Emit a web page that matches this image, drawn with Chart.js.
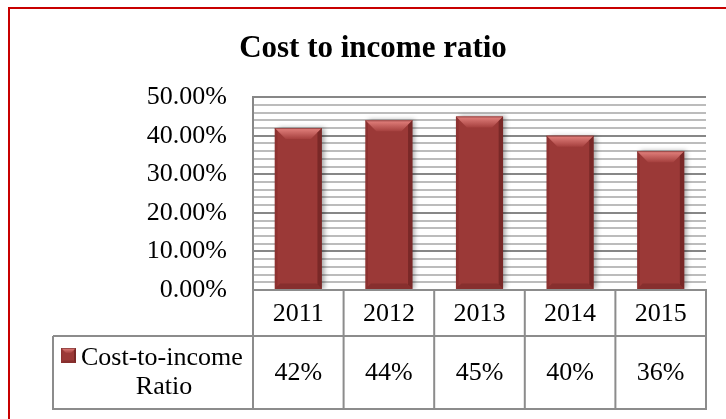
<!DOCTYPE html>
<html>
<head>
<meta charset="utf-8">
<title>Cost to income ratio</title>
<script src="https://cdn.jsdelivr.net/npm/chart.js@4/dist/chart.umd.min.js"></script>
<style>
  html, body { margin: 0; padding: 0; background: #fff; }
  canvas { display: block; }
</style>
</head>
<body>
<canvas id="ratioChart" width="726" height="419"></canvas>
<script>
// chart data
const years = ["2011", "2012", "2013", "2014", "2015"];
const ratioValues = [42, 44, 45, 40, 36];
const valueLabels = ["42%", "44%", "45%", "40%", "36%"];
const seriesLines = ["Cost-to-income", "Ratio"];
const yLabelTicks = [0, 10, 20, 30, 40, 50];

const serif = "'Liberation Serif', 'Times New Roman', serif";
const gridDark = "#878787";
const gridLight = "#bcbcbc";
const tableLine = "#8c8c8c";

// draws the 3D look of a bar (or the legend swatch)
function bevel(ctx, left, right, top, bottom, t) {
    // top face
    let g = ctx.createLinearGradient(0, top, 0, top + t);
    g.addColorStop(0, "#e4837f");
    g.addColorStop(1, "#a5403e");
    ctx.fillStyle = g;
    ctx.beginPath();
    ctx.moveTo(left, top);
    ctx.lineTo(right, top);
    ctx.lineTo(right - t, top + t);
    ctx.lineTo(left + t, top + t);
    ctx.closePath();
    ctx.fill();

    // right side, darker
    let s = Math.max(2, t * 0.4);
    ctx.fillStyle = "rgba(80, 20, 20, 0.45)";
    ctx.beginPath();
    ctx.moveTo(right, top);
    ctx.lineTo(right, bottom);
    ctx.lineTo(right - s, bottom - s);
    ctx.lineTo(right - s, top + s);
    ctx.closePath();
    ctx.fill();

    // left side, a little darker
    ctx.fillStyle = "rgba(90, 25, 25, 0.2)";
    ctx.beginPath();
    ctx.moveTo(left, top);
    ctx.lineTo(left + s * 0.6, top + s * 0.6);
    ctx.lineTo(left + s * 0.6, bottom - s * 0.6);
    ctx.lineTo(left, bottom);
    ctx.closePath();
    ctx.fill();

    // bottom band
    let b = Math.max(2, t * 0.5);
    ctx.fillStyle = "rgba(90, 25, 25, 0.3)";
    ctx.beginPath();
    ctx.moveTo(left, bottom);
    ctx.lineTo(right, bottom);
    ctx.lineTo(right - b, bottom - b);
    ctx.lineTo(left + b, bottom - b);
    ctx.closePath();
    ctx.fill();

    // thin outline on top
    ctx.strokeStyle = "rgba(110, 40, 40, 0.6)";
    ctx.lineWidth = 1;
    ctx.beginPath();
    ctx.moveTo(left, top + 0.5);
    ctx.lineTo(right, top + 0.5);
    ctx.stroke();
}

const barLook = {
    id: "barLook",
    beforeDatasetDraw(chart) {
        const ctx = chart.ctx;
        ctx.save();
        ctx.shadowColor = "rgba(0, 0, 0, 0.35)";
        ctx.shadowBlur = 5;
        ctx.shadowOffsetX = 3;
        ctx.shadowOffsetY = 0;
    },
    afterDatasetDraw(chart, args) {
        const ctx = chart.ctx;
        ctx.restore();
        ctx.save();
        args.meta.data.forEach(bar => {
            const p = bar.getProps(["x", "y", "base", "width"], true);
            bevel(ctx, p.x - p.width / 2, p.x + p.width / 2, p.y, p.base, 11);
        });
        ctx.restore();
    }
};

// red frame, data table under the plot
const frameAndTable = {
    id: "frameAndTable",
    beforeDraw(chart) {
        const ctx = chart.ctx;
        ctx.save();
        ctx.fillStyle = "#fff";
        ctx.fillRect(0, 0, chart.width, chart.height);
        ctx.strokeStyle = "#c80000";
        ctx.lineWidth = 2;
        ctx.beginPath();
        ctx.moveTo(9, chart.height);
        ctx.lineTo(9, 8);
        ctx.lineTo(chart.width, 8);
        ctx.stroke();
        ctx.restore();
    },
    afterDraw(chart) {
        const ctx = chart.ctx;
        const area = chart.chartArea;
        const xs = chart.scales.x;
        const row1 = area.bottom + 46;
        const row2 = row1 + 73;
        const legendLeft = 53;

        const centers = years.map((y, i) => xs.getPixelForValue(i));
        const step = centers.length > 1 ? centers[1] - centers[0] : area.right - area.left;
        const edges = centers.map(c => c - step / 2);
        edges.push(centers[centers.length - 1] + step / 2);

        ctx.save();
        ctx.strokeStyle = tableLine;
        ctx.lineWidth = 2;
        ctx.beginPath();
        edges.forEach(x => {
            ctx.moveTo(x, area.bottom);
            ctx.lineTo(x, row2);
        });
        ctx.moveTo(legendLeft, row1);
        ctx.lineTo(legendLeft, row2);
        ctx.moveTo(legendLeft, row1);
        ctx.lineTo(edges[edges.length - 1] + 1, row1);
        ctx.moveTo(legendLeft - 1, row2);
        ctx.lineTo(edges[edges.length - 1] + 1, row2);
        ctx.moveTo(edges[0], area.bottom);
        ctx.lineTo(edges[edges.length - 1] + 1, area.bottom);
        ctx.stroke();

        ctx.fillStyle = "#000";
        ctx.font = "26px " + serif;
        ctx.textAlign = "center";
        ctx.textBaseline = "middle";
        centers.forEach((c, i) => {
            ctx.fillText(years[i], c, (area.bottom + row1) / 2 + 1);
            ctx.fillText(valueLabels[i], c, (row1 + row2) / 2 + 1);
        });

        // legend cell
        const textLeft = 81;
        const textRight = edges[0] - 6;
        ctx.textAlign = "left";
        ctx.fillText(seriesLines[0], textLeft, row1 + 22);
        ctx.textAlign = "center";
        ctx.fillText(seriesLines[1], (textLeft + textRight) / 2, row1 + 51);

        ctx.fillStyle = "#9b3937";
        ctx.fillRect(61, row1 + 12, 15, 15);
        bevel(ctx, 61, 76, row1 + 12, row1 + 27, 5);
        ctx.restore();
    }
};

new Chart(document.getElementById("ratioChart"), {
    type: "bar",
    data: {
        labels: years,
        datasets: [{
            label: seriesLines.join(" "),
            data: ratioValues,
            backgroundColor: "#9b3937",
            borderWidth: 0,
            categoryPercentage: 1,
            barPercentage: 0.52
        }]
    },
    options: {
        responsive: false,
        animation: false,
        devicePixelRatio: 1,
        layout: {
            padding: { left: 40, right: 20, top: 0, bottom: 129 }
        },
        scales: {
            x: {
                display: false
            },
            y: {
                min: 0,
                max: 50,
                afterFit: scale => { scale.width = 213; },
                ticks: {
                    stepSize: 2,
                    autoSkip: false,
                    padding: 26,
                    color: "#000",
                    font: { family: serif, size: 26 },
                    callback: v => yLabelTicks.includes(v) ? v.toFixed(2) + "%" : ""
                },
                grid: {
                    drawTicks: false,
                    lineWidth: 2,
                    color: c => (c.tick && c.tick.value % 10 === 0) ? gridDark : gridLight
                },
                border: { display: true, color: gridDark, width: 2 }
            }
        },
        plugins: {
            legend: { display: false },
            tooltip: { enabled: false },
            title: {
                display: true,
                text: "Cost to income ratio",
                color: "#000",
                font: { family: serif, size: 31, weight: "bold" },
                padding: { top: 30, bottom: 30 }
            }
        }
    },
    plugins: [frameAndTable, barLook]
});
</script>
</body>
</html>
